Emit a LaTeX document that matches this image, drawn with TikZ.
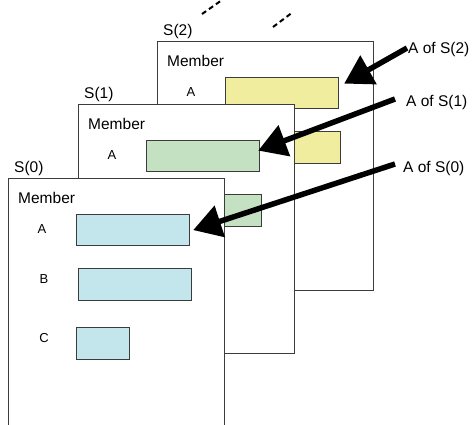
\documentclass[tikz,border=0pt]{standalone}
\usepackage{fontspec}
\setmainfont{Liberation Sans}
\usetikzlibrary{calc, arrows.meta}

\definecolor{boxyellow}{RGB}{240,238,158}
\definecolor{boxgreen}{RGB}{196,226,194}
\definecolor{boxblue}{RGB}{194,230,236}
\definecolor{edgegray}{RGB}{60,60,60}

\tikzset{
  structbox/.style={draw=edgegray, line width=1pt, fill=white, inner sep=0pt,
    minimum width=216pt, minimum height=249pt, anchor=north west},
  fieldbox/.style={draw=edgegray, line width=1.2pt, inner sep=0pt,
    minimum height=31pt, anchor=north west},
  caption/.style={font=\fontsize{15.5}{18}\selectfont, inner sep=1pt, anchor=west},
  fieldname/.style={font=\fontsize{13}{15}\selectfont, inner sep=0pt},
  pointer/.style={line width=5.5pt, -{Triangle[length=28pt,width=32pt]}},
  trail/.style={line width=2pt, dash pattern=on 5pt off 3.5pt}
}

\begin{document}
\begin{tikzpicture}[x=1pt, y=-1pt]
    \clip (0,0) rectangle (472,424);

    % 1. Structures, back to front
    \foreach \k/\dx/\dy/\col in {2/149/-137/boxyellow, 1/70/-74/boxgreen, 0/0/0/boxblue} {
        \begin{scope}[shift={(\dx,\dy)}]
            \node[structbox] (S\k) at (8,178) {};
            \node[caption] (T\k) at (13,168) {S(\k)};
            \node[caption] (M\k) at (17,198) {Member};
            % fields
            \node[fieldname] (nA\k) at (42,229) {A};
            \node[fieldname] (nB\k) at (44,279) {B};
            \node[fieldname] (nC\k) at (44,338) {C};
            \node[fieldbox, fill=\col, minimum width=113pt] (A\k) at (76,214) {};
            \node[fieldbox, fill=\col, minimum width=113pt, minimum height=32pt] (B\k) at (78,268) {};
            \node[fieldbox, fill=\col, minimum width=53pt, minimum height=32pt] (C\k) at (76,327) {};
        \end{scope}
    }

    % 2. More structures behind
    \draw[trail] (202,14) -- (222,0);
    \draw[trail] (273,27) -- (293,12);

    % 3. Pointer labels
    \node[caption] (L2) at (407,49) {A of S(2)};
    \node[caption] (L1) at (405,102) {A of S(1)};
    \node[caption] (L0) at (402,168) {A of S(0)};

    % 4. Pointers
    \draw[pointer] ($(L2.west)+(0,-1)$) -- ($(A2.east)+(5,-9.5)$);
    \draw[pointer] ($(L1.west)+(-10,-3)$) -- ($(A1.east)+(-2,-5.5)$);
    \draw[pointer] ($(L0.west)+(-7,-4)$) -- ($(A0.east)+(3,0)$);

\end{tikzpicture}
\end{document}
